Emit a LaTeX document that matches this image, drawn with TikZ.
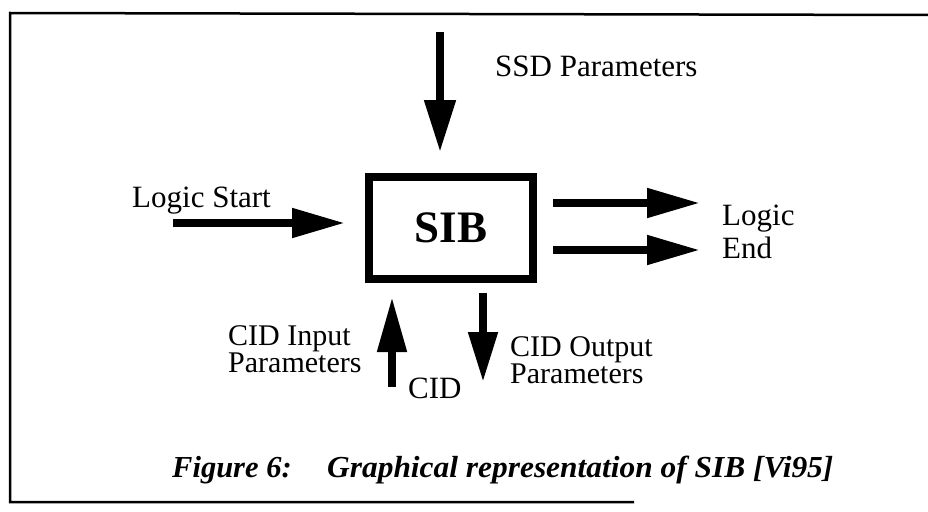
\documentclass[tikz,border=0pt]{standalone}
\usepackage{fontspec}
\setmainfont{Liberation Serif}
\usetikzlibrary{arrows.meta}

\tikzset{
  flow/.style={line width=8pt,
    -{Triangle[length=53pt,width=28pt]}},
  lbl/.style={anchor=base west, inner sep=0pt,
    font=\fontsize{31}{33}\selectfont},
  lblsm/.style={anchor=base west, inner sep=0pt,
    font=\fontsize{30}{32}\selectfont},
  caption/.style={anchor=base west, inner sep=0pt,
    font=\fontsize{30.5}{32}\selectfont\bfseries\itshape},
  frameline/.style={line width=2.5pt},
  sibbox/.style={draw, line width=8pt, rectangle,
    minimum width=164pt, minimum height=102pt, inner sep=0pt,
    font=\fontsize{45}{47}\selectfont\bfseries}
}

\begin{document}
\begin{tikzpicture}[x=1pt, y=-1pt]
  \useasboundingbox (0,0) rectangle (928,511);

  % open frame around the figure
  \coordinate (fTR) at (928,15);
  \coordinate (fTL) at (10,13);
  \coordinate (fBL) at (10,502);
  \coordinate (fBR) at (634,502);
  \draw[frameline] (fTR) -- (fTL) -- (fBL) -- (fBR);

  % central block
  \node[sibbox] (sib) at (451,228) {\raisebox{-2pt}{SIB}};

  % arrow end points
  \coordinate (ssdA) at (440,32);   \coordinate (ssdB) at (440,152);
  \coordinate (lsA)  at (173,223);  \coordinate (lsB)  at (345,223);
  \coordinate (le1A) at (553,203);  \coordinate (le1B) at (700,203);
  \coordinate (le2A) at (553,250);  \coordinate (le2B) at (700,250);
  \coordinate (ciA)  at (392,387);  \coordinate (ciB)  at (392,297);
  \coordinate (coA)  at (483,293);  \coordinate (coB)  at (483,382);

  \draw[flow, -{Triangle[length=52pt,width=30pt]}] (ssdA) -- (ssdB);
  \draw[flow] (lsA) -- (lsB);
  \draw[flow] (le1A) -- (le1B);
  \draw[flow] (le2A) -- (le2B);
  \draw[flow, -{Triangle[length=55pt,width=28pt]}] (ciA) -- (ciB);
  \draw[flow, -{Triangle[length=50pt,width=28pt]}] (coA) -- (coB);

  % labels
  \node[lbl] (ssd)    at (495,77)  {SSD Parameters};
  \node[lbl] (lstart) at (132,207) {Logic Start};
  \node[lbl] (lend1)  at (722,225) {Logic};
  \node[lbl] (lend2)  at (722,258) {End};
  \node[lblsm] (cin1)  at (228,345) {CID Input};
  \node[lblsm] (cin2)  at (228,372) {Parameters};
  \node[lbl] (cid)    at (408,398) {CID};
  \node[lblsm] (cout1) at (510,356) {CID Output};
  \node[lblsm] (cout2) at (510,383) {Parameters};

  % caption
  \node[caption] (capA) at (172,477) {Figure 6:};
  \node[caption] (capB) at (327,477) {\scalebox{1.03}[1]{Graphical representation of SIB [Vi95]}};
\end{tikzpicture}
\end{document}
